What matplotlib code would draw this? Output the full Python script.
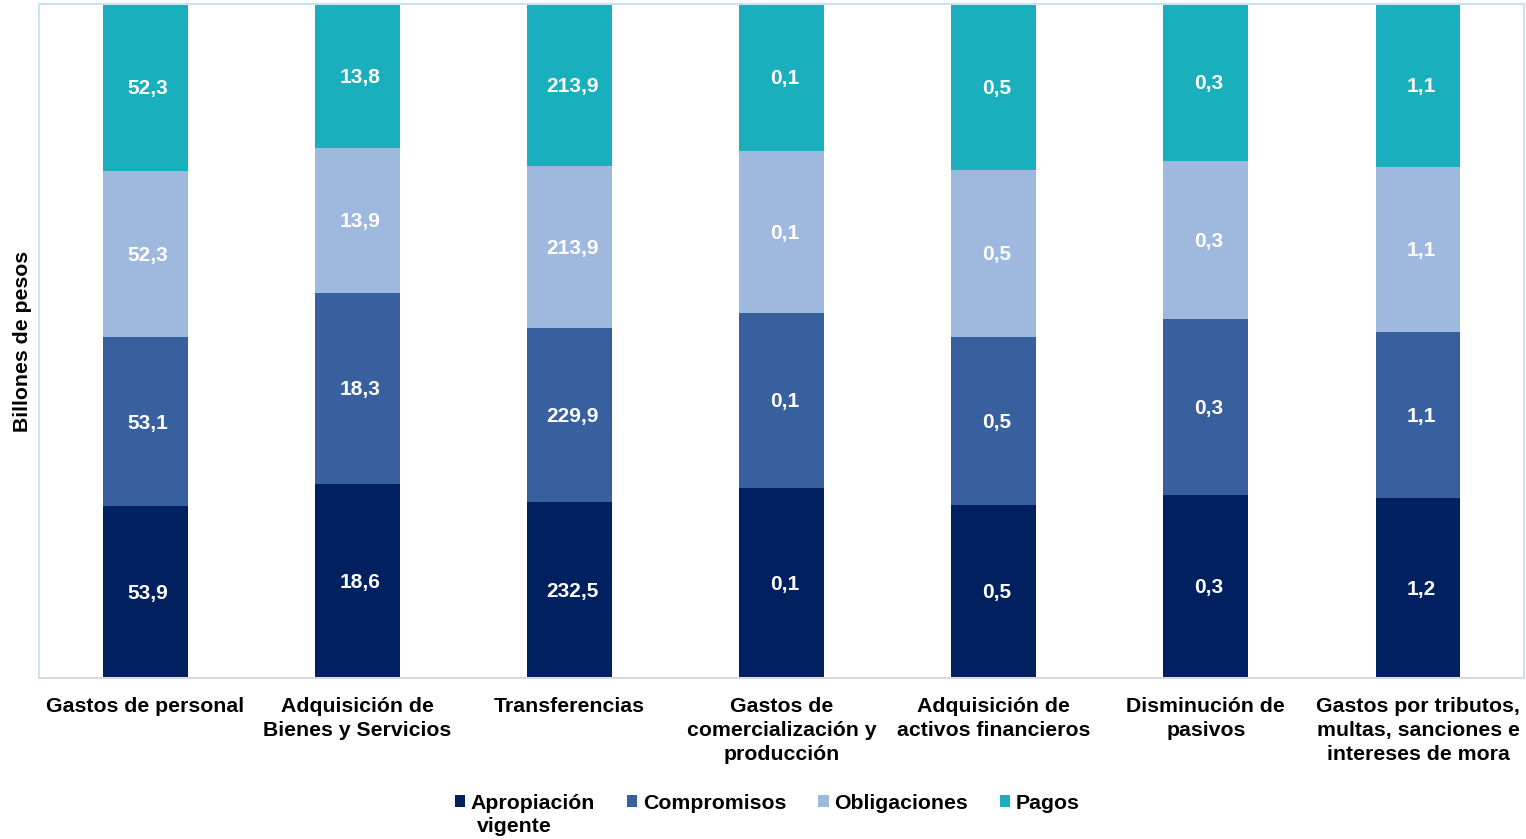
import matplotlib
matplotlib.use("Agg")
import matplotlib.pyplot as plt
import numpy as np

plt.rcParams['font.family'] = ['Liberation Sans', 'DejaVu Sans']

categories = [
    "Gastos de personal",
    "Adquisición de\nBienes y Servicios",
    "Transferencias",
    "Gastos de\ncomercialización y\nproducción",
    "Adquisición de\nactivos financieros",
    "Disminución de\npasivos",
    "Gastos por tributos,\nmultas, sanciones e\nintereses de mora",
]
series_names = ["Apropiación", "Compromisos", "Obligaciones", "Pagos"]
legend_wrap = "vigente"

apropiacion = [53.9, 18.6, 232.5, 0.143, 0.519, 0.320, 1.197]
compromisos = [53.1, 18.3, 229.9, 0.131, 0.504, 0.308, 1.104]
obligaciones = [52.3, 13.9, 213.9, 0.122, 0.501, 0.277, 1.097]
pagos = [52.3, 13.8, 213.9, 0.110, 0.498, 0.275, 1.084]

colors = ["#00205F", "#38609E", "#9FB8DD", "#1AAFBC"]

data = np.array([apropiacion, compromisos, obligaciones, pagos])
totals = data.sum(axis=0)
shares = data / totals

fig = plt.figure(figsize=(15.26, 8.39), dpi=100)
ax = fig.add_axes([0.0256, 0.1919, 0.9731, 0.8033])

x = np.arange(len(categories))
bottom = np.zeros(len(categories))
for i, name in enumerate(series_names):
    bars = ax.bar(x, shares[i], width=0.4, bottom=bottom, color=colors[i],
                  label=name, zorder=2)
    for j, b in enumerate(bars):
        val = data[i, j]
        txt = f"{val:.1f}".replace(".", ",")
        ax.text(b.get_x() + b.get_width() / 2 + 0.014, bottom[j] + shares[i, j] / 2 - 0.002,
                txt, ha="center", va="center", color="white",
                fontsize=15, fontweight="bold")
    bottom += shares[i]

ax.set_xlim(-0.5, len(categories) - 0.5)
ax.set_ylim(0, 1)
ax.set_yticks([])
ax.set_xticks(x)
ax.set_xticklabels(categories, fontsize=15.3, fontweight="bold", linespacing=1.33)
ax.tick_params(axis="x", length=0, pad=14)
ax.set_ylabel("Billones de pesos", fontsize=15.3, fontweight="bold", labelpad=5)

for side in ["left", "right", "top"]:
    ax.spines[side].set_color("#C6E4F2")
    ax.spines[side].set_linewidth(1.5)
ax.spines["bottom"].set_color("#D9D9D9")
ax.spines["bottom"].set_linewidth(1.5)

leg = fig.legend(loc="upper center", bbox_to_anchor=(0.5026, 0.054), ncol=4,
                 frameon=False, prop={"size": 15.3, "weight": "bold"},
                 handlelength=0.5, handleheight=0.5, handletextpad=0.25,
                 columnspacing=1.5, borderpad=0, borderaxespad=0)

fig.canvas.draw()
t0 = leg.get_texts()[0]
bb = t0.get_window_extent()
inv = fig.transFigure.inverted()
(x0, y0) = inv.transform((bb.x0 + 6, bb.y0 - 4))
fig.text(x0, y0, legend_wrap, ha="left", va="top", fontsize=15.3, fontweight="bold")

fig.savefig("out.png", dpi=100)
